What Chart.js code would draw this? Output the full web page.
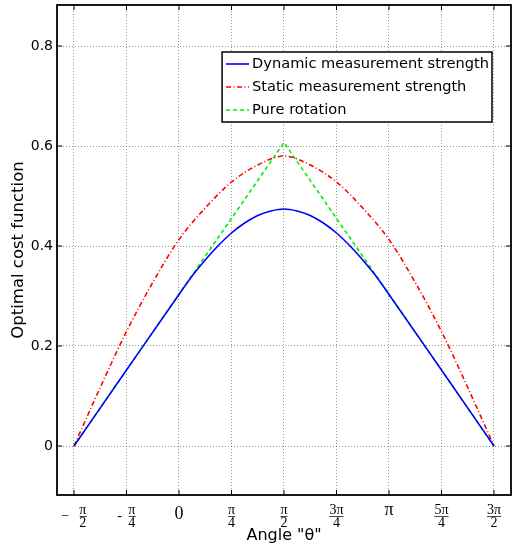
<!DOCTYPE html>
<html>
<head>
<meta charset="utf-8">
<script src="https://cdn.jsdelivr.net/npm/chart.js@4.4.0/dist/chart.umd.min.js"></script>
<style>
  html, body { margin: 0; padding: 0; background: #ffffff; }
  canvas { display: block; }
</style>
</head>
<body>
<canvas id="chart" width="512" height="546"></canvas>
<script>
// ---- data (angles in multiples of π) ----
const angleTicks = [-0.5, -0.25, 0, 0.25, 0.5, 0.75, 1, 1.25, 1.5];
const angleTickLabels = [
  ['\u2003\u2005\u03C0', '\u2212\u2002\u2005\u2013', '\u2003\u20052'],
  ['\u2002\u2005\u03C0', '-\u2002\u2013', '\u2002\u20054'],
  '0',
  ['\u03C0', '\u2013', '4'],
  ['\u03C0', '\u2013', '2'],
  ['3\u03C0', '\u2014', '4'],
  '\u03C0',
  ['5\u03C0', '\u2014', '4'],
  ['3\u03C0', '\u2014', '2']
];
const valueTicks = [0, 0.2, 0.4, 0.6, 0.8];

const seriesLabels = ['Dynamic measurement strength', 'Static measurement strength', 'Pure rotation'];

const dynamicAngles = [-0.5, -0.25, 0, 0.0625, 0.125, 0.1875, 0.25, 0.3125, 0.375, 0.4375, 0.5,
                       0.5625, 0.625, 0.6875, 0.75, 0.8125, 0.875, 0.9375, 1, 1.25, 1.5];
const dynamicValues = [0, 0.152, 0.303, 0.340, 0.372, 0.401, 0.426, 0.446, 0.461, 0.470, 0.474,
                       0.470, 0.461, 0.446, 0.426, 0.401, 0.372, 0.340, 0.303, 0.152, 0];

const staticAngles = [-0.5, -0.375, -0.25, -0.125, 0, 0.125, 0.25, 0.375, 0.5,
                      0.625, 0.75, 0.875, 1, 1.125, 1.25, 1.375, 1.5];
const staticValues = [0, 0.117, 0.229, 0.327, 0.413, 0.476, 0.528, 0.562, 0.580,
                      0.562, 0.528, 0.476, 0.413, 0.327, 0.229, 0.117, 0];

const pureAngles = [-0.5, 0.5, 1.5];
const pureValues = [0, 0.607, 0];

const xMin = -1.825, xMax = 4.967;
const yMin = -0.098, yMax = 0.882;

// ---- helpers ----
const SANS = '"DejaVu Sans", Verdana, sans-serif';
const SERIF = '"Liberation Serif", "Times New Roman", serif';
const toPoints = (angles, values) => angles.map((a, i) => ({ x: a * Math.PI, y: values[i] }));

const insetLegend = {
  id: 'insetLegend',
  afterDatasetsDraw(chart) {
    const { ctx, chartArea } = chart;
    const items = chart.data.datasets;
    ctx.save();
    ctx.font = '14.6px ' + SANS;
    const textW = Math.max(...items.map(d => ctx.measureText(d.label).width));
    const padL = 4, sample = 23, gap = 3, padR = 3, rowH = 23;
    const w = padL + sample + gap + textW + padR;
    const h = rowH * items.length + 1;
    const right = chartArea.right - 19;
    const top = chartArea.top + 47;
    const left = right - w;
    ctx.fillStyle = '#ffffff';
    ctx.fillRect(left, top, w, h);
    ctx.strokeStyle = '#000000';
    ctx.lineWidth = 1.5;
    ctx.strokeRect(left, top, w, h);
    items.forEach((d, i) => {
      const y = top + 12 + i * rowH;
      ctx.beginPath();
      ctx.setLineDash(d.borderDash || []);
      ctx.strokeStyle = d.borderColor;
      ctx.lineWidth = d.borderWidth;
      ctx.moveTo(left + padL, y);
      ctx.lineTo(left + padL + sample, y);
      ctx.stroke();
      ctx.setLineDash([]);
      ctx.fillStyle = '#000000';
      ctx.textBaseline = 'middle';
      ctx.textAlign = 'left';
      ctx.fillText(d.label, left + padL + sample + gap, y);
    });
    ctx.restore();
  }
};

const boxFrame = {
  id: 'boxFrame',
  afterDraw(chart) {
    const { ctx, chartArea: a, scales } = chart;
    ctx.save();
    ctx.strokeStyle = '#000000';
    ctx.lineWidth = 1;
    ctx.beginPath();
    scales.x.ticks.forEach(t => {
      const px = scales.x.getPixelForValue(t.value);
      ctx.moveTo(px, a.bottom); ctx.lineTo(px, a.bottom - 5);
      ctx.moveTo(px, a.top); ctx.lineTo(px, a.top + 5);
    });
    scales.y.ticks.forEach(t => {
      const py = scales.y.getPixelForValue(t.value);
      ctx.moveTo(a.left, py); ctx.lineTo(a.left + 5, py);
      ctx.moveTo(a.right, py); ctx.lineTo(a.right - 5, py);
    });
    ctx.stroke();
    ctx.lineWidth = 1.8;
    ctx.strokeRect(a.left, a.top, a.right - a.left, a.bottom - a.top);
    ctx.restore();
  }
};

new Chart(document.getElementById('chart'), {
  type: 'line',
  data: {
    datasets: [
      {
        label: seriesLabels[0],
        data: toPoints(dynamicAngles, dynamicValues),
        borderColor: '#0000ff',
        borderWidth: 1.6,
        pointRadius: 0,
        fill: false,
        cubicInterpolationMode: 'monotone'
      },
      {
        label: seriesLabels[1],
        data: toPoints(staticAngles, staticValues),
        borderColor: '#ff0000',
        borderWidth: 1.6,
        borderDash: [5, 2.5, 1, 2.5],
        pointRadius: 0,
        fill: false,
        cubicInterpolationMode: 'monotone'
      },
      {
        label: seriesLabels[2],
        data: toPoints(pureAngles, pureValues),
        borderColor: '#00f000',
        borderWidth: 1.6,
        borderDash: [4, 3],
        pointRadius: 0,
        fill: false,
        tension: 0
      }
    ]
  },
  options: {
    responsive: false,
    animation: false,
    layout: { padding: { top: 5, right: 1, left: 0, bottom: 0 } },
    plugins: {
      legend: { display: false },
      tooltip: { enabled: false }
    },
    scales: {
      x: {
        type: 'linear',
        min: xMin,
        max: xMax,
        afterBuildTicks: s => { s.ticks = angleTicks.map(a => ({ value: a * Math.PI })); },
        afterFit: s => { s.height = 51; s.paddingLeft = 0; s.paddingRight = 0; },
        grid: { color: 'rgba(0,0,0,0.4)', lineWidth: 1, drawTicks: false },
        border: { display: false, dash: [1, 2] },
        ticks: {
          autoSkip: false,
          maxRotation: 0,
          padding: 12,
          color: '#000000',
          callback: (v, i) => angleTickLabels[i],
          font: c => {
            const lbl = c.tick ? c.tick.label : '';
            if (Array.isArray(lbl)) return { family: SERIF, size: 14, lineHeight: '6.5px' };
            if (lbl === '0') return { family: SERIF, size: 18, lineHeight: '15px' };
            return { family: SERIF, size: 18, lineHeight: '7.5px' };
          }
        },
        title: {
          display: true,
          text: 'Angle "\u03B8"',
          color: '#000000',
          font: { family: SANS, size: 16 },
          padding: { top: 0, bottom: 1 }
        }
      },
      y: {
        type: 'linear',
        min: yMin,
        max: yMax,
        afterBuildTicks: s => { s.ticks = valueTicks.map(v => ({ value: v })); },
        afterFit: s => { s.width = 57; s.paddingTop = 0; s.paddingBottom = 0; },
        grid: { color: 'rgba(0,0,0,0.4)', lineWidth: 1, drawTicks: false },
        border: { display: false, dash: [1, 2] },
        ticks: {
          padding: 4,
          color: '#000000',
          font: { family: SANS, size: 14 },
          callback: v => (v === 0 ? '0' : v.toFixed(1))
        },
        title: {
          display: true,
          text: 'Optimal cost function',
          color: '#000000',
          font: { family: SANS, size: 16.5 },
          padding: { top: 8.4, bottom: 0 }
        }
      }
    }
  },
  plugins: [insetLegend, boxFrame]
});
</script>
</body>
</html>
